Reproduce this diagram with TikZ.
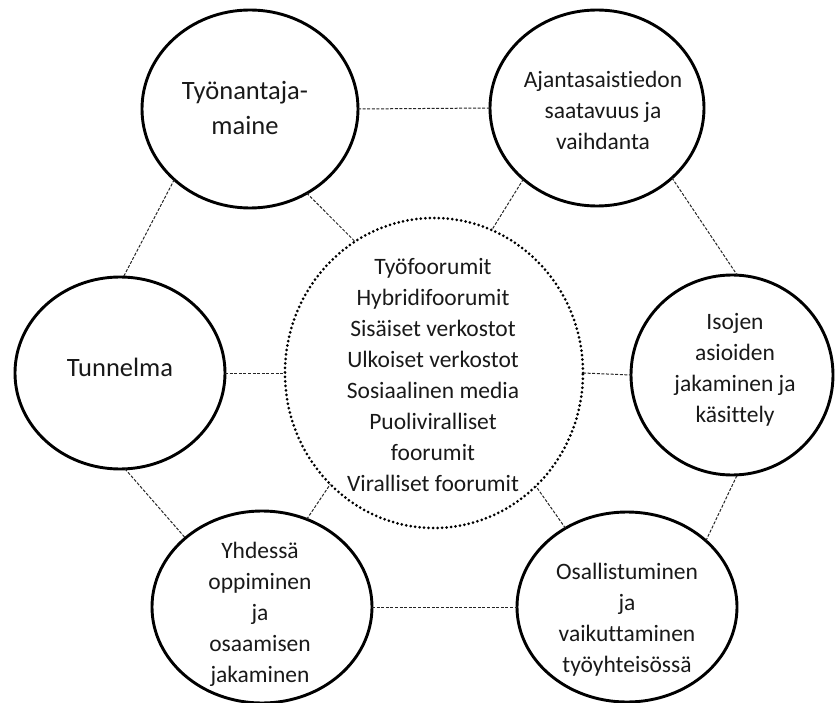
\documentclass[tikz,border=0pt]{standalone}
\usepackage{fontspec}
\setmainfont{Carlito}[Ligatures={NoCommon}]
\usetikzlibrary{shapes.geometric}
\begin{document}
\begin{tikzpicture}[x=1pt,y=-1pt,
  bub/.style={ellipse, draw, line width=2.9pt, inner sep=0pt, outer sep=0pt},
  hub/.style={ellipse, draw, line width=3pt, line cap=round, dash pattern=on 0pt off 4.5pt, inner sep=0pt, outer sep=0pt},
  txt/.style={align=center, inner sep=0pt, text=black!90, font=\fontsize{23.5}{31}\selectfont},
  bigtxt/.style={txt, font=\fontsize{26.5}{35}\selectfont},
  link/.style={draw, line width=1pt, dash pattern=on 3pt off 1.6pt, black!85}]
\useasboundingbox (0,0) rectangle (835,703);
\node[bub, minimum width=216pt, minimum height=198pt] (tl) at (250,109) {};
\node[bub, minimum width=214pt, minimum height=196pt] (tr) at (597,108) {};
\node[bub, minimum width=210pt, minimum height=192pt] (tn) at (120,373) {};
\node[bub, minimum width=202pt, minimum height=200pt] (iso) at (732,375) {};
\node[bub, minimum width=220pt, minimum height=192pt] (yh) at (262,607) {};
\node[bub, minimum width=220pt, minimum height=190pt] (os) at (627,607) {};
\node[hub, minimum width=298pt, minimum height=310pt] (c) at (434,373) {};

\node[bigtxt] (tlt) at (245,108) {Työnantaja-\\maine};
\node[txt] (trt) at (603,110) {Ajantasaistiedon\\saatavuus ja\\vaihdanta};
\node[bigtxt] (tnt) at (120,367) {Tunnelma};
\node[txt] (isot) at (735,370) {Isojen\\asioiden\\jakaminen ja\\käsittely};
\node[txt] (yht) at (260,614) {Yhdessä\\oppiminen\\ja\\osaamisen\\jakaminen};
\node[txt] (ost) at (627,620) {Osallistuminen\\ja\\vaikuttaminen\\työyhteisössä};
\node[txt] (ct) at (433,375) {Työfoorumit\\Hybridifoorumit\\Sisäiset verkostot\\Ulkoiset verkostot\\Sosiaalinen media\\Puoliviralliset\\foorumit\\Viralliset foorumit};

\draw[link] (tl.east) -- (tr.west);
\draw[link] (tl.223) -- (tn.88);
\draw[link] (tl.304) -- (c.121);
\draw[link] (tr.224) -- (c.68);
\draw[link] (tr.317) -- (iso.87);
\draw[link] (tn.east) -- (c.west);
\draw[link] (c.east) -- (iso.west);
\draw[link] (tn.273) -- (yh.138);
\draw[link] (yh.63) -- (c.227);
\draw[link] (yh.east) -- (os.west);
\draw[link] (os.128) -- (c.312);
\draw[link] (os.40) -- (iso.273);
\end{tikzpicture}
\end{document}
